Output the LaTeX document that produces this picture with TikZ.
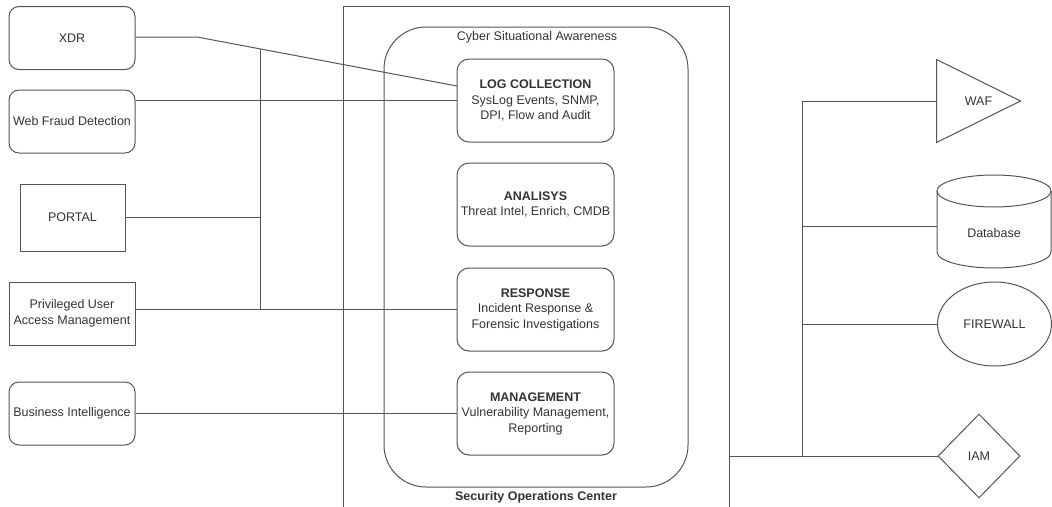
\documentclass[tikz,border=0pt]{standalone}
\usepackage{fontspec}
\setmainfont{Liberation Sans}
\usetikzlibrary{shapes.geometric,calc}
\definecolor{ln}{HTML}{555555}
\definecolor{tx}{HTML}{333333}
\tikzset{
  base/.style={draw=ln, line width=1pt, text=tx, font=\fontsize{12.5}{15.5}\selectfont, align=center, inner sep=0pt},
  leftr/.style={base, rounded corners=10pt, minimum width=126pt, minimum height=63pt},
  lefts/.style={base, minimum width=126pt, minimum height=63pt},
  inbox/.style={base, rounded corners=12pt, minimum width=157pt, minimum height=83pt},
  conn/.style={draw=ln, line width=1pt},
  lbl/.style={text=tx, font=\fontsize{12.5}{15.5}\selectfont, inner sep=0pt, align=center}
}
\begin{document}
\begin{tikzpicture}[x=1pt,y=-1pt]
\useasboundingbox (0,0) rectangle (1052,506);
\clip (0,0) rectangle (1052,506);
% containers
\node[base, minimum width=386pt, minimum height=520pt, anchor=north west] (soc) at (343,6) {};
\node[lbl] (soclabel) at (536,497) {\textbf{Security Operations Center}};
\node[base, rounded corners=42pt, minimum width=304pt, minimum height=460pt] (csa) at (536,257) {};
\node[lbl] (csalabel) at (537,37) {Cyber Situational Awareness};
% inner boxes
\node[inbox] (log) at (535.5,100.5) {\textbf{LOG COLLECTION}\\SysLog Events, SNMP,\\DPI, Flow and Audit};
\node[inbox] (ana) at (535.5,204.5) {\textbf{ANALISYS}\\Threat Intel, Enrich, CMDB};
\node[inbox] (resp) at (535.5,309.5) {\textbf{RESPONSE}\\Incident Response \&\\Forensic Investigations};
\node[inbox] (mgmt) at (535.5,413.5) {\textbf{MANAGEMENT}\\Vulnerability Management,\\Reporting};
% left boxes
\node[leftr] (xdr) at (72,38) {XDR};
\node[leftr] (wfd) at (72,121.5) {Web Fraud Detection};
\node[lefts, minimum width=105pt, minimum height=67pt] (portal) at (72.5,217.5) {PORTAL};
\node[lefts] (puam) at (72,313.5) {Privileged User\\Access Management};
\node[leftr] (bi) at (72,413.5) {Business Intelligence};
% right shapes
\node[base, draw=none, minimum width=83pt, minimum height=82pt] (waf) at (978.5,101) {WAF};
\draw[conn] (waf.north west) -- (waf.east) -- (waf.south west) -- cycle;
\node[base, draw=none, minimum width=114pt, minimum height=93pt] (db) at (994,221.5) {};
\draw[conn] (937,191) -- (937,252) arc[start angle=180, end angle=360, x radius=57pt, y radius=16pt] -- (1051,191);
\draw[conn] (994,191) ellipse [x radius=57pt, y radius=16pt];
\node[lbl] (dblabel) at (994,233) {Database};
\node[base, ellipse, minimum width=114pt, minimum height=84pt] (fw) at (994.5,324) {FIREWALL};
\node[base, diamond, minimum width=82pt, minimum height=84pt] (iam) at (979,456) {IAM};
% left connectors
\coordinate (xbend) at (197,37);
\coordinate (login) at (457,86);
\coordinate (lbtop) at (260,48.6);
\draw[conn] (xdr.east |- xbend) -- (xbend) -- (login);
\draw[conn] (lbtop) -- (lbtop |- resp.west);
\draw[conn] (wfd.east |- log.west) -- (log.west);
\draw[conn] (portal.east) -- (portal.east -| lbtop);
\draw[conn] (puam.east |- resp.west) -- (resp.west);
\draw[conn] (bi.east) -- (mgmt.west);
% right connectors
\coordinate (rbtop) at (802,101);
\coordinate (dbin) at (937,226);
\draw[conn] (rbtop) -- (rbtop |- iam.west);
\draw[conn] (rbtop) -- (waf.west);
\draw[conn] (dbin -| rbtop) -- (dbin);
\draw[conn] (fw.west -| rbtop) -- (fw.west);
\draw[conn] (soc.east |- iam.west) -- (iam.west);
\end{tikzpicture}
\end{document}
